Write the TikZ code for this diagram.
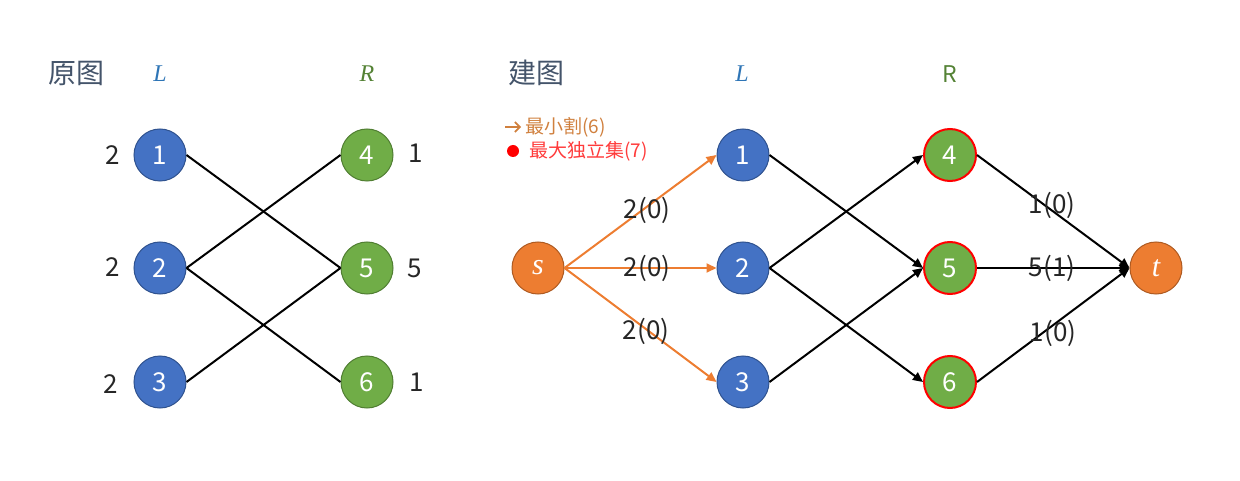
\documentclass[tikz,border=0pt]{standalone}
\usepackage{fontspec}
\setmainfont{Noto Sans CJK SC}
\newfontfamily\itf{Liberation Serif}
\usetikzlibrary{arrows.meta}
\definecolor{blueN}{HTML}{4472C4}
\definecolor{blueB}{HTML}{2F528F}
\definecolor{greenN}{HTML}{70AD47}
\definecolor{greenB}{HTML}{507E32}
\definecolor{orangeN}{HTML}{ED7D31}
\definecolor{orangeB}{HTML}{AE5A21}
\definecolor{headC}{HTML}{44546A}
\definecolor{lblue}{HTML}{2E75B6}
\definecolor{rgreen}{HTML}{548235}
\definecolor{cutC}{HTML}{D0803E}
\definecolor{setC}{HTML}{FF3B3B}
\definecolor{txtC}{HTML}{262626}
\begin{document}
\begin{tikzpicture}[x=1pt,y=-1pt,
  base/.style={circle,minimum size=52pt,inner sep=0pt,text=white,font=\fontsize{26}{26}\selectfont},
  lnode/.style={base,fill=blueN,draw=blueB,line width=1pt},
  rnode/.style={base,fill=greenN,draw=greenB,line width=1pt},
  rsel/.style={base,fill=greenN,draw=red,line width=2pt},
  onode/.style={base,fill=orangeN,draw=orangeB,line width=1pt,font=\itf\itshape\fontsize{30}{30}\selectfont},
  wlab/.style={text=txtC,font=\fontsize{26}{26}\selectfont,inner sep=0pt},
  head/.style={text=headC,font=\fontsize{28}{28}\selectfont,inner sep=0pt},
  side/.style={font=\itf\itshape\fontsize{24}{24}\selectfont,inner sep=0pt},
  edge/.style={line width=2pt,black},
  aedge/.style={line width=2pt,black,-{Triangle[length=10pt,width=9pt]}},
  oedge/.style={line width=2pt,orangeN,-{Triangle[length=10pt,width=9pt]}}
]
\useasboundingbox (0,0) rectangle (1240,481);
% ---------- left: original graph ----------
\node[head] (h1) at (76,73) {原图};
\node[side,text=lblue] (hL1) at (160,74) {L};
\node[side,text=rgreen] (hR1) at (367,74) {R};
\node[lnode] (a1) at (160,155) {1};
\node[lnode] (a2) at (160,268) {2};
\node[lnode] (a3) at (160,382) {3};
\node[rnode] (a4) at (367,155) {4};
\node[rnode] (a5) at (367,268) {5};
\node[rnode] (a6) at (367,382) {6};
\node[wlab] (w1) at (113,155) {2};
\node[wlab] (w2) at (113,267) {2};
\node[wlab] (w3) at (111,384) {2};
\node[wlab] (w4) at (416,153) {1};
\node[wlab] (w5) at (415,268) {5};
\node[wlab] (w6) at (417,382) {1};
\draw[edge] (a1.east) -- (a5.west);
\draw[edge] (a2.east) -- (a4.west);
\draw[edge] (a2.east) -- (a6.west);
\draw[edge] (a3.east) -- (a5.west);
% ---------- right: built network ----------
\node[head] (h2) at (536,73) {建图};
\node[side,text=lblue] (hL2) at (742,74) {L};
\node[inner sep=0pt,text=rgreen,font=\fontsize{23}{23}\selectfont] (hR2) at (950,74) {R};
% legend
\coordinate (la0) at (505,127);
\coordinate (la1) at (521,127);
\draw[cutC,line width=1.6pt,-{Straight Barb[length=5pt,width=10pt]}] (la0) -- (la1);
\node[anchor=west,inner sep=0pt,text=cutC,font=\fontsize{19}{19}\selectfont] (lg1) at (525,127) {最小割(6)};
\node[circle,fill=red,minimum size=12pt,inner sep=0pt] (dot) at (513,151) {};
\node[anchor=west,inner sep=0pt,text=setC,font=\fontsize{19}{19}\selectfont] (lg2) at (529,151) {最大独立集(7)};
% nodes
\node[onode] (s) at (538,268) {s};
\node[lnode] (b1) at (743,155) {1};
\node[lnode] (b2) at (743,268) {2};
\node[lnode] (b3) at (743,382) {3};
\node[rsel] (b4) at (950,155) {4};
\node[rsel] (b5) at (950,268) {5};
\node[rsel] (b6) at (950,382) {6};
\node[onode] (t) at (1156,268) {t};
% edges
\draw[oedge] (s.east) -- (b1.west);
\draw[oedge] (s.east) -- (b2.west);
\draw[oedge] (s.east) -- (b3.west);
\draw[aedge] (b1.east) -- (b5.west);
\draw[aedge] (b2.east) -- (b4.west);
\draw[aedge] (b2.east) -- (b6.west);
\draw[aedge] (b3.east) -- (b5.west);
\draw[aedge] (b4.east) -- (t.west);
\draw[aedge,line width=2.6pt] (b5.east) -- (t.west);
\draw[aedge] (b6.east) -- (t.west);
% edge labels
\node[wlab] (e1) at (647,210) {2(0)};
\node[wlab] (e2) at (647,268) {2(0)};
\node[wlab] (e3) at (646,331) {2(0)};
\node[wlab] (e4) at (1052,205) {1(0)};
\node[wlab] (e5) at (1052,268) {5(1)};
\node[wlab] (e6) at (1053,333) {1(0)};
\end{tikzpicture}
\end{document}
